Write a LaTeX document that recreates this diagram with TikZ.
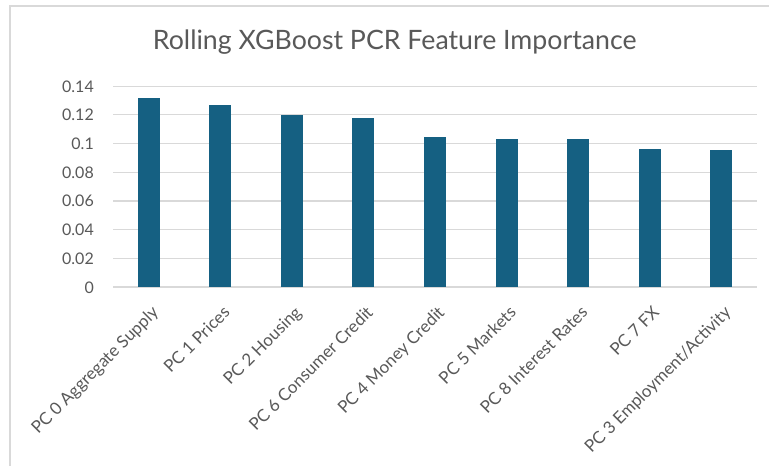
\documentclass[tikz,border=0pt]{standalone}
\usepackage{fontspec}
\setmainfont{Lato}
\definecolor{barc}{HTML}{156082}
\definecolor{gridc}{HTML}{D9D9D9}
\definecolor{txtc}{HTML}{595959}
\begin{document}
\begin{tikzpicture}[x=1pt,y=-1pt,
  bar/.style={fill=barc,draw=none},
  gridl/.style={draw=gridc,line width=1.2pt},
  ticklab/.style={text=txtc,font=\fontsize{16}{18}\selectfont,anchor=base east,inner sep=0pt},
  catlab/.style={text=txtc,font=\fontsize{17}{19}\selectfont,anchor=north east,rotate=45,inner sep=0pt,text height=12pt,text depth=3.5pt},
  titlelab/.style={text=txtc,font=\fontsize{26.7}{29}\selectfont,anchor=base,inner sep=0pt}]
\useasboundingbox (0,0) rectangle (769,466);
\fill[white] (0,0) rectangle (769,466);
% chart border
\draw[draw=gridc,line width=1.2pt] (10,475) -- (10,6) -- (780,6);
% gridlines and tick labels
\foreach \lab [count=\i from 0] in {0,0.02,0.04,0.06,0.08,0.1,0.12,0.14}{
  \pgfmathsetmacro{\yy}{287-\i*28.7}
  \coordinate (gl\i) at (113,\yy);
  \coordinate (gr\i) at (757,\yy);
  \draw[gridl] (gl\i) -- (gr\i);
  \node[ticklab] (t\i) at (94,\yy+6) {\lab};
}
% bars
\foreach \val/\name [count=\i from 0] in {
  0.1317/{PC 0 Aggregate Supply},
  0.1270/{PC 1 Prices},
  0.1198/{PC 2 Housing},
  0.1178/{PC 6 Consumer Credit},
  0.1047/{PC 4 Money Credit},
  0.1029/{PC 5 Markets},
  0.1029/{PC 8 Interest Rates},
  0.0960/{PC 7 FX},
  0.0952/{PC 3 Employment/Activity}}{
  \pgfmathsetmacro{\cx}{113+71.56*(\i+0.5)}
  \pgfmathsetmacro{\top}{287-\val/0.02*28.7}
  \fill[bar] (\cx-11,287) rectangle (\cx+11,\top);
  \node[catlab] (c\i) at (\cx+2,305) {\name};
}
\node[titlelab] (title) at (394.7,49.7) {Rolling XGBoost PCR Feature Importance};
\end{tikzpicture}
\end{document}
